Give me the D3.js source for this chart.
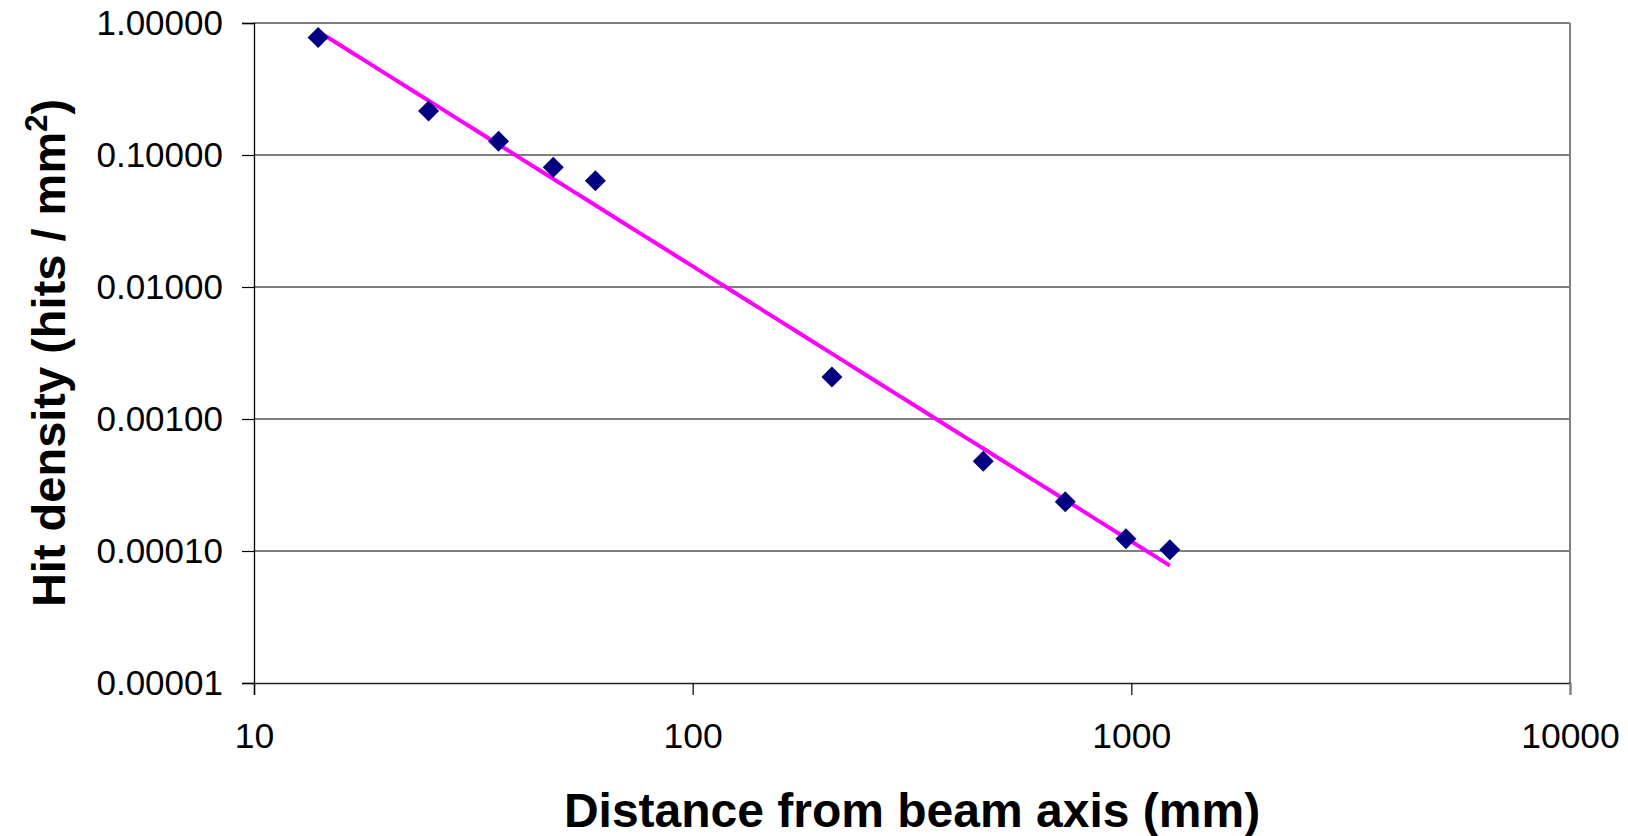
<!DOCTYPE html>
<html>
<head>
<meta charset="utf-8">
<script src="https://cdn.jsdelivr.net/npm/d3@7"></script>
<style>
  html, body { margin: 0; padding: 0; background: #fff; }
  svg { display: block; }
  text { font-family: Arial, "Liberation Sans", sans-serif; }
</style>
</head>
<body>
<svg id="chart" width="1628" height="836"></svg>
<script>
// ---- data ----
const distances = [14, 25, 36.1, 48.1, 60, 207.7, 459.7, 707, 972, 1224];          // mm
const hitDensity = [0.777, 0.215, 0.127, 0.0807, 0.0639, 0.00208, 0.000478, 0.000236, 0.000124, 0.000102]; // hits / mm^2
const xTickValues = [10, 100, 1000, 10000];
const xTickLabels = ["10", "100", "1000", "10000"];
const yTickValues = [1, 0.1, 0.01, 0.001, 0.0001, 0.00001];
const yTickLabels = ["1.00000", "0.10000", "0.01000", "0.00100", "0.00010", "0.00001"];
const xTitle = "Distance from beam axis (mm)";

(function () {
const svg = d3.select("#chart");
const pL = 254, pR = 1570, pT = 23, pB = 683;

const x = d3.scaleLog().domain([10, 10000]).range([pL, pR]);
const y = d3.scaleLog().domain([0.00001, 1]).range([pB, pT]);

// gridlines (horizontal, black)
svg.append("g").selectAll("line").data(yTickValues.filter(v => v !== 1 && v !== 0.00001))
  .join("line")
  .attr("x1", pL).attr("x2", pR)
  .attr("y1", d => y(d)).attr("y2", d => y(d))
  .attr("stroke", "#000").attr("stroke-width", 1.2);

// plot frame: top and right grey
svg.append("line").attr("x1", pL).attr("x2", pR).attr("y1", pT).attr("y2", pT)
  .attr("stroke", "#808080").attr("stroke-width", 2);
svg.append("line").attr("x1", pR).attr("x2", pR).attr("y1", pT).attr("y2", pB)
  .attr("stroke", "#808080").attr("stroke-width", 2);

// y axis
const yAxis = d3.axisLeft(y).tickValues(yTickValues)
  .tickFormat((d, i) => yTickLabels[i]).tickSize(12).tickPadding(19);
const gy = svg.append("g").attr("transform", `translate(${pL},0)`).call(yAxis);
gy.select(".domain").attr("stroke", "#000").attr("stroke-width", 1.3);
gy.selectAll(".tick line").attr("stroke", "#000").attr("stroke-width", 1.2);
gy.selectAll(".tick text").attr("font-size", 35).attr("fill", "#000")
  .attr("font-family", "Arial, 'Liberation Sans', sans-serif");

// x axis
const xAxis = d3.axisBottom(x).tickValues(xTickValues)
  .tickFormat((d, i) => xTickLabels[i]).tickSize(12).tickPadding(28);
const gx = svg.append("g").attr("transform", `translate(0,${pB})`).call(xAxis);
gx.select(".domain").attr("stroke", "#222").attr("stroke-width", 1.5);
gx.selectAll(".tick line").attr("stroke", "#000").attr("stroke-width", 1.2);
gx.selectAll(".tick text").attr("font-size", 35.5).attr("fill", "#000")
  .attr("font-family", "Arial, 'Liberation Sans', sans-serif");
gx.selectAll(".tick line").filter(d => d === 10000).attr("stroke", "#808080").attr("stroke-width", 2);

// power-law trend line fitted to the data (least squares in log-log space)
const lx = distances.map(Math.log10), ly = hitDensity.map(Math.log10);
const mx = d3.mean(lx), my = d3.mean(ly);
const slope = d3.sum(lx, (v, i) => (v - mx) * (ly[i] - my)) / d3.sum(lx, v => (v - mx) * (v - mx));
const intercept = my - slope * mx;
const xMin = d3.min(distances), xMax = d3.max(distances);
const trend = d3.range(0, 51).map(i => {
  const lv = Math.log10(xMin) + (Math.log10(xMax) - Math.log10(xMin)) * i / 50;
  return [Math.pow(10, lv), Math.pow(10, intercept + slope * lv)];
});
svg.append("path").datum(trend)
  .attr("d", d3.line().x(d => x(d[0])).y(d => y(d[1])))
  .attr("fill", "none").attr("stroke", "#FF00FF").attr("stroke-width", 4);

// diamond markers
const r = 10.5;
svg.append("g").selectAll("path").data(distances.map((d, i) => [d, hitDensity[i]]))
  .join("path")
  .attr("transform", d => `translate(${x(d[0])},${y(d[1])})`)
  .attr("d", `M0,${-r}L${r},0L0,${r}L${-r},0Z`)
  .attr("fill", "#000080");

// axis titles
svg.append("text")
  .attr("x", (pL + pR) / 2).attr("y", 827)
  .attr("text-anchor", "middle")
  .attr("font-size", 48).attr("font-weight", "bold").attr("fill", "#000")
  .text(xTitle);

const yt = svg.append("text")
  .attr("transform", "translate(65,353) rotate(-90)")
  .attr("text-anchor", "middle")
  .attr("font-size", 47).attr("font-weight", "bold").attr("fill", "#000");
yt.append("tspan").text("Hit density (hits / mm");
yt.append("tspan").attr("font-size", 31).attr("dy", -18).text("2");
yt.append("tspan").attr("dy", 18).text(")");
})();
</script>
</body>
</html>
